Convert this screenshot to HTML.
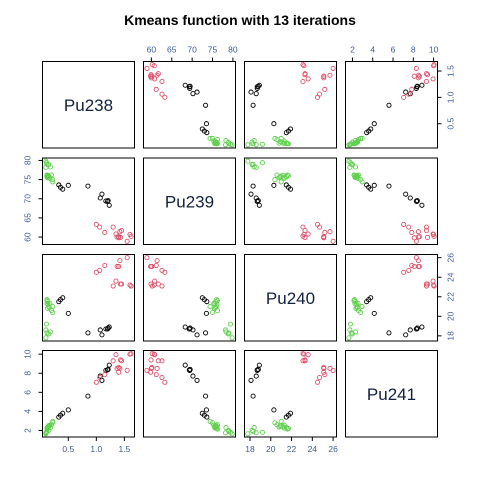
<!DOCTYPE html>
<html><head><meta charset="utf-8"><style>
body{margin:0;background:#fff;}
svg{display:block;font-family:"Liberation Sans",Arial,sans-serif;}
</style></head><body>
<svg id="chart" width="480" height="480" viewBox="0 0 480 480">
<text x="240" y="25" text-anchor="middle" font-size="14" font-weight="bold" fill="#000">Kmeans function with 13 iterations</text>
</svg>
<script>
const varNames = ["Pu238","Pu239","Pu240","Pu241"];
const tickValues = [[0.5,1.0,1.5],[60,65,70,75,80],[18,20,22,24,26],[2,4,6,8,10]];
const tickLabels = [["0.5","1.0","1.5"],["60","65","70","75","80"],["18","20","22","24","26"],["2","4","6","8","10"]];
const clusterColors = ["#000000","#DF536B","#61D04F"];
// cluster 0: black
const blackPu238 = [0.33,0.36,0.40,0.50,0.85,1.07,1.10,1.17,1.20,1.21,1.23];
const blackPu239 = [73.6,73.0,72.5,73.5,73.3,70.2,71.2,69.4,69.3,69.5,68.3];
const blackPu240 = [21.5,21.7,21.9,20.3,18.3,18.6,18.1,18.7,18.7,18.8,18.9];
const blackPu241 = [3.4,3.6,3.8,4.15,5.6,7.7,7.25,8.3,8.35,8.4,8.85];
// cluster 1: red
const redPu238 = [1.00,1.06,1.15,1.30,1.35,1.37,1.40,1.40,1.42,1.43,1.45,1.55,1.60,1.62];
const redPu239 = [63.3,62.6,61.2,62.6,60.8,60.0,59.8,60.1,61.4,59.9,61.7,58.9,60.7,60.2];
const redPu240 = [24.5,24.7,25.2,23.1,23.6,25.1,25.1,25.1,25.7,23.3,23.3,26.0,23.2,23.1];
const redPu241 = [7.05,7.55,7.85,9.3,9.95,8.5,8.1,8.6,8.5,9.4,9.3,8.3,10.0,10.05];
// cluster 2: green
const greenPu238 = [0.10,0.12,0.15,0.10,0.18,0.11,0.12,0.13,0.14,0.12,0.15,0.13,0.12,0.20,0.22,0.22,0.16,0.17];
const greenPu239 = [79.8,79.0,78.9,78.2,78.3,79.4,76.0,75.8,76.1,75.6,75.9,75.5,76.2,76.2,75.0,74.4,75.7,75.3];
const greenPu240 = [17.8,18.3,18.2,18.6,18.4,19.2,21.7,21.5,21.2,21.3,21.0,20.8,21.6,20.6,20.4,21.0,20.9,21.3];
const greenPu241 = [1.65,1.9,2.0,1.75,2.3,1.8,2.2,2.3,2.4,2.25,2.5,2.35,2.15,2.6,2.8,2.95,2.45,2.55];

const clusters = [[blackPu238,blackPu239,blackPu240,blackPu241],[redPu238,redPu239,redPu240,redPu241],[greenPu238,greenPu239,greenPu240,greenPu241]];
const NS="http://www.w3.org/2000/svg";
const svg=document.getElementById('chart');
const colX=[42.5,143.5,244.5,345.5], rowY=[61.5,158,254.5,350.5], PW=92, PH=86.5;
function mk(t,a,p){const e=document.createElementNS(NS,t);for(const k in a)e.setAttribute(k,a[k]);(p||svg).appendChild(e);return e;}
const ranges=[];
for(let v=0;v<4;v++){let mn=Infinity,mx=-Infinity;clusters.forEach(c=>c[v].forEach(x=>{mn=Math.min(mn,x);mx=Math.max(mx,x);}));const pad=(mx-mn)*0.04;ranges.push([mn-pad,mx+pad]);}
function sx(v,col,val){const r=ranges[v];return colX[col]+(val-r[0])/(r[1]-r[0])*PW;}
function sy(v,row,val){const r=ranges[v];return rowY[row]+PH-(val-r[0])/(r[1]-r[0])*PH;}
const lab="#3d5a99";
for(let i=0;i<4;i++)for(let j=0;j<4;j++){
  const g=mk('g',{});
  
  
  const box=mk('rect',{x:colX[j],y:rowY[i],width:PW,height:PH,fill:'none',stroke:'#000','stroke-width':1},g);
  
  
  if(i===j){
    const t=mk('text',{x:colX[j]+PW/2,y:rowY[i]+PH/2+6,'text-anchor':'middle','font-size':17,fill:'#102040'},g);
    t.textContent=varNames[i];
    
    
    continue;
  }
  clusters.forEach((c,k)=>{
    for(let n=0;n<c[j].length;n++){
      const p=mk('circle',{cx:sx(j,j,c[j][n]),cy:sy(i,i,c[i][n]),r:2.1,fill:'none',stroke:clusterColors[k],'stroke-width':0.9},g);
      
      
    }
  });
}
// axes
for(let v=0;v<4;v++){
  const top=(v%2===1);
  const xa=mk('g',{});
  
  
  const yb=top?rowY[0]:rowY[3]+PH;
  const d=top?-1:1;
  tickValues[v].forEach((tv,ti)=>{
    const x=sx(v,v,tv);
    mk('line',{x1:x,y1:yb,x2:x,y2:yb+d*4,stroke:'#000','stroke-width':1},xa);
    const t=mk('text',{x:x,y:top?yb-9:yb+15,'text-anchor':'middle','font-size':8.5,fill:lab},xa);
    t.textContent=tickLabels[v][ti];
    
    
  });
  const lft=(v%2===1);
  const ya=mk('g',{});
  
  
  const xb=lft?colX[0]:colX[3]+PW;
  const e=lft?-1:1;
  tickValues[v].forEach((tv,ti)=>{
    const y=sy(v,v,tv);
    mk('line',{x1:xb,y1:y,x2:xb+e*4,y2:y,stroke:'#000','stroke-width':1},ya);
    const lx=lft?xb-12:xb+16;
    const t=mk('text',{x:lx,y:y,'text-anchor':'middle','font-size':8.5,fill:lab,transform:'rotate(-90 '+lx+' '+y+')'},ya);
    t.textContent=tickLabels[v][ti];
    
    
  });
}
</script>
</body></html>
